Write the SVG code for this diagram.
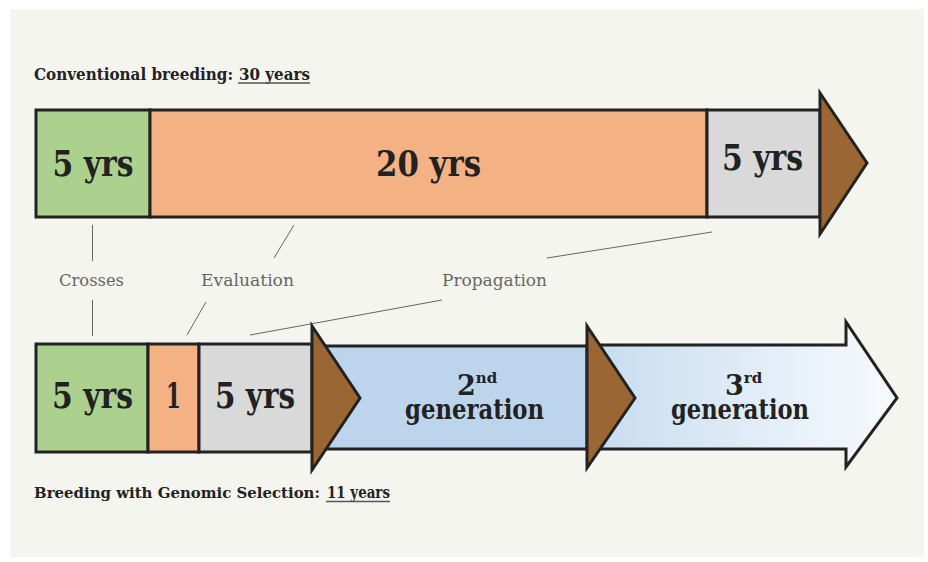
<svg xmlns="http://www.w3.org/2000/svg" width="928" height="562" viewBox="0 0 928 562">
<defs>
<style>
.bg{fill:#f5f5f0}
.box{stroke:#222;stroke-width:3;stroke-linejoin:miter}
.green{fill:#acd18f}
.orange{fill:#f4b183}
.gray{fill:#d9d9d9}
.blue{fill:#bdd5ec}
.brown{fill:#9a6633}
.big{font-family:"DejaVu Serif","Liberation Serif",serif;font-weight:bold;font-size:35px;fill:#222}
.gen{font-family:"DejaVu Serif","Liberation Serif",serif;font-weight:bold;font-size:27px;fill:#222}
.title{font-family:"DejaVu Serif","Liberation Serif",serif;font-weight:bold;font-size:16.5px;fill:#222}
.lbl{font-family:"DejaVu Serif","Liberation Serif",serif;font-size:16px;fill:#666}
.lead{stroke:#666;stroke-width:1;fill:none}
.ul{stroke:#555;stroke-width:1.5}
</style>
<linearGradient id="g3" x1="0" y1="0" x2="1" y2="0">
<stop offset="0" stop-color="#c6dcf0"/>
<stop offset="1" stop-color="#f8fafd"/>
</linearGradient>
</defs>
<rect x="0" y="0" width="928" height="562" fill="#ffffff"/>
<rect class="bg" x="10" y="9" width="914" height="548"/>

<g id="title-conventional">
<text class="title" x="34" y="79.5" style="font-size:15.8px" textLength="199" lengthAdjust="spacingAndGlyphs">Conventional breeding:</text>
<text class="title" x="239" y="79.5" textLength="71" lengthAdjust="spacingAndGlyphs">30 years</text>
<line class="ul" x1="238" y1="83" x2="310" y2="83"/>
</g>

<g id="conv-crosses">
<rect class="box green" x="36" y="110" width="114" height="107"/>
<text class="big" x="93" y="176" text-anchor="middle" textLength="81" lengthAdjust="spacingAndGlyphs">5 yrs</text>
</g>
<g id="conv-evaluation">
<rect class="box orange" x="150" y="110" width="557" height="107"/>
<text class="big" x="428.5" y="176" text-anchor="middle" textLength="105" lengthAdjust="spacingAndGlyphs">20 yrs</text>
</g>
<g id="conv-propagation">
<rect class="box gray" x="707" y="110" width="113" height="107"/>
<text class="big" x="762.5" y="170" text-anchor="middle" textLength="81" lengthAdjust="spacingAndGlyphs">5 yrs</text>
</g>
<g id="conv-arrowhead">
<polygon class="box brown" points="820,93 867,163 820,234"/>
</g>

<g id="connectors">
<line class="lead" x1="92.5" y1="225" x2="92.5" y2="261"/>
<line class="lead" x1="92.5" y1="300" x2="92.5" y2="336"/>
<line class="lead" x1="294" y1="225" x2="274" y2="258"/>
<line class="lead" x1="206" y1="302" x2="187" y2="335"/>
<line class="lead" x1="712" y1="232" x2="547" y2="258"/>
<line class="lead" x1="442" y1="300" x2="250" y2="335"/>
</g>

<g id="label-crosses">
<text class="lbl" x="91.5" y="286" text-anchor="middle" textLength="65" lengthAdjust="spacingAndGlyphs">Crosses</text>
</g>
<g id="label-evaluation">
<text class="lbl" x="247.5" y="286" text-anchor="middle" textLength="93" lengthAdjust="spacingAndGlyphs">Evaluation</text>
</g>
<g id="label-propagation">
<text class="lbl" x="494.5" y="286" text-anchor="middle" textLength="105" lengthAdjust="spacingAndGlyphs">Propagation</text>
</g>

<g id="gen3">
<polygon class="box" fill="url(#g3)" points="587,345 846,345 846,322 897,398 846,467 846,449 587,449"/>
<text class="gen" x="725" y="395">3<tspan font-size="15" dy="-12">rd</tspan></text>
<text class="gen" x="740" y="419" text-anchor="middle" textLength="138" lengthAdjust="spacingAndGlyphs">generation</text>
</g>
<g id="gen2">
<rect class="box blue" x="312" y="346" width="275" height="103"/>
<text class="gen" x="457" y="395">2<tspan font-size="15" dy="-12">nd</tspan></text>
<text class="gen" x="474.5" y="419" text-anchor="middle" textLength="139" lengthAdjust="spacingAndGlyphs">generation</text>
</g>
<g id="gs-crosses">
<rect class="box green" x="36" y="344" width="112" height="108"/>
<text class="big" x="92.5" y="408" text-anchor="middle" textLength="81" lengthAdjust="spacingAndGlyphs">5 yrs</text>
</g>
<g id="gs-evaluation">
<rect class="box orange" x="148" y="344" width="51" height="108"/>
<text class="big" x="173.5" y="408" text-anchor="middle" textLength="15" lengthAdjust="spacingAndGlyphs">1</text>
</g>
<g id="gs-propagation">
<rect class="box gray" x="199" y="344" width="113" height="108"/>
<text class="big" x="255" y="408" text-anchor="middle" textLength="80" lengthAdjust="spacingAndGlyphs">5 yrs</text>
</g>
<g id="gs-arrowhead1">
<polygon class="box brown" points="312,326 360,398 312,470"/>
</g>
<g id="gs-arrowhead2">
<polygon class="box brown" points="587,326 635,398 587,468"/>
</g>

<g id="title-genomic">
<text class="title" x="34" y="498" style="font-size:15.3px" textLength="286" lengthAdjust="spacingAndGlyphs">Breeding with Genomic Selection:</text>
<text class="title" x="327" y="498" textLength="63" lengthAdjust="spacingAndGlyphs">11 years</text>
<line class="ul" x1="326" y1="501.5" x2="390" y2="501.5"/>
</g>
</svg>
